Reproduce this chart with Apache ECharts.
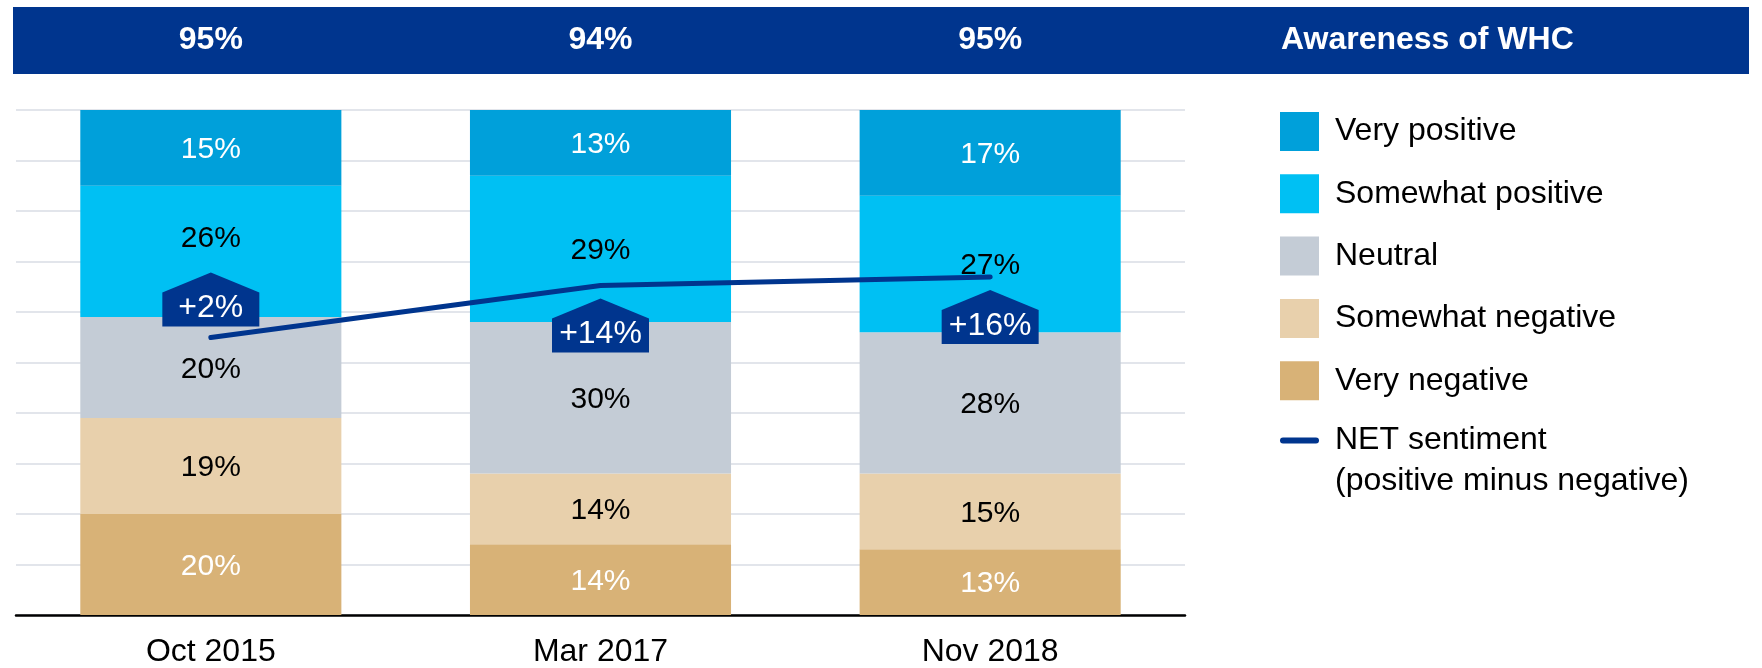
<!DOCTYPE html>
<html>
<head>
<meta charset="utf-8">
<script src="https://cdn.jsdelivr.net/npm/echarts@6/dist/echarts.min.js"></script>
<style>
html, body { margin: 0; padding: 0; background: #fff; }
#chart { width: 1762px; height: 668px; }
</style>
</head>
<body>
<div id="chart"></div>
<script>
// chart data
const categories = ['Oct 2015', 'Mar 2017', 'Nov 2018'];
const awareness = [95, 94, 95];
const veryPositive = [15, 13, 17];
const somewhatPositive = [26, 29, 27];
const neutral = [20, 30, 28];
const somewhatNegative = [19, 14, 15];
const veryNegative = [20, 14, 13];
const netSentiment = [2, 14, 16];

const FONT = "'Liberation Sans', Arial, sans-serif";
const NAVY = '#00358E';

let mychart = echarts.init(document.getElementById('chart'));

let barSerie = (name, data, color, labelColor) => {
    return {
        name: name,
        type: 'bar',
        stack: 'total',
        barWidth: '67%',
        data: data,
        itemStyle: { color: color },
        label: {
            show: true,
            position: 'inside',
            offset: [0, 2],
            formatter: '{c}%',
            color: labelColor,
            fontSize: 30,
            fontFamily: FONT
        }
    }
}

// oct 2015 label sits a bit higher so the badge doesn't cover it
let spData = somewhatPositive.map((v, i) => i === 0 ? { value: v, label: { offset: [0, -13] } } : v)

let badgeAbove = [true, false, false]

let options = {
    animation: false,
    textStyle: { fontFamily: FONT },
    graphic: [
        {
            type: 'rect',
            shape: { x: 13, y: 7, width: 1736, height: 67 },
            style: { fill: NAVY },
            z: -1
        },
        {
            type: 'text',
            x: 1281,
            y: 40,
            style: {
                text: 'Awareness of WHC',
                fill: '#fff',
                font: 'bold 32px ' + FONT,
                verticalAlign: 'middle'
            }
        }
    ],
    legend: [
        {
            orient: 'vertical',
            left: 1280,
            top: 112,
            padding: 0,
            itemWidth: 39,
            itemHeight: 39,
            itemGap: 23.3,
            icon: 'rect',
            selectedMode: false,
            data: ['Very positive', 'Somewhat positive', 'Neutral', 'Somewhat negative', 'Very negative'],
            textStyle: { fontSize: 32, color: '#000', fontFamily: FONT, padding: [0, 0, 0, 11] }
        },
        {
            orient: 'vertical',
            left: 1280,
            top: 379,
            padding: 0,
            itemWidth: 39,
            itemHeight: 39,
            selectedMode: false,
            data: [{
                name: 'NET sentiment',
                icon: 'path://M3,0L36,0A3,3,0,0,1,36,6L3,6A3,3,0,0,1,3,0Z'
            }],
            // empty first line keeps the first text line level with the icon
            formatter: () => ' \nNET sentiment\n(positive minus negative)',
            textStyle: { fontSize: 32, lineHeight: 41, color: '#000', fontFamily: FONT, padding: [0, 0, 0, 11] }
        }
    ],
    grid: { left: 16, right: 577, top: 110, bottom: 53, containLabel: false },
    xAxis: [
        {
            type: 'category',
            data: categories,
            axisLine: { lineStyle: { color: '#000', width: 2.5 } },
            axisTick: { show: false },
            axisLabel: { fontSize: 32, color: '#000', margin: 21, fontFamily: FONT }
        },
        {
            type: 'category',
            position: 'top',
            data: awareness.map(v => v + '%'),
            axisLine: { show: false },
            axisTick: { show: false },
            axisLabel: {
                fontSize: 32, fontWeight: 'bold', color: '#fff', margin: 70,
                verticalAlign: 'middle', fontFamily: FONT
            }
        }
    ],
    yAxis: [
        {
            type: 'value',
            min: 0,
            max: 100,
            interval: 10,
            axisLabel: { show: false },
            axisLine: { show: false },
            axisTick: { show: false },
            splitLine: { lineStyle: { color: '#D8DDE4', width: 1.5 } }
        },
        {
            type: 'value',
            min: -62,
            max: 54.5,
            show: false,
            splitLine: { show: false }
        }
    ],
    series: [
        barSerie('Very negative', veryNegative, '#D8B277', '#fff'),
        barSerie('Somewhat negative', somewhatNegative, '#E8D0AC', '#000'),
        barSerie('Neutral', neutral, '#C4CCD6', '#000'),
        barSerie('Somewhat positive', spData, '#00C0F3', '#000'),
        barSerie('Very positive', veryPositive, '#00A0DA', '#fff'),
        {
            name: 'NET sentiment',
            type: 'line',
            yAxisIndex: 1,
            data: netSentiment,
            symbol: 'none',
            color: NAVY,
            lineStyle: { color: NAVY, width: 5, cap: 'round' },
            z: 5,
            markPoint: {
                symbol: 'path://M0,20L48.5,0L97,20L97,54L0,54Z',
                symbolSize: [97, 54],
                itemStyle: { color: NAVY },
                label: {
                    show: true,
                    position: 'inside',
                    offset: [0, 9],
                    color: '#fff',
                    fontSize: 32,
                    fontFamily: FONT,
                    formatter: p => '+' + p.value + '%'
                },
                data: netSentiment.map((v, i) => ({
                    coord: [i, v],
                    value: v,
                    symbolOffset: [0, badgeAbove[i] ? -38 : 40]
                }))
            }
        }
    ]
};

mychart.setOption(options);
</script>
</body>
</html>
